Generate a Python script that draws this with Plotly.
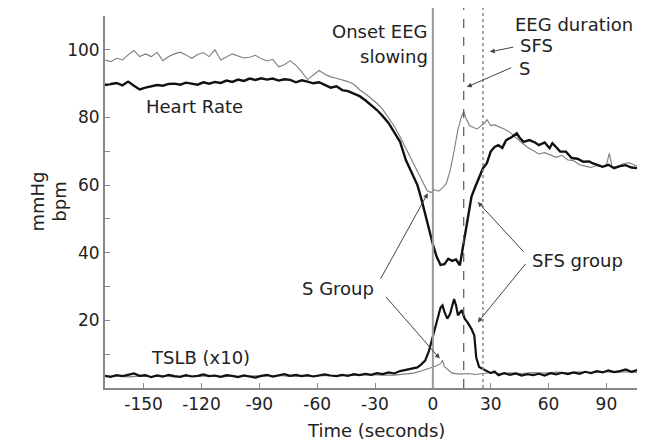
import plotly.graph_objects as go

# ── data ──
# S group (thin grey) heart rate
t_hr_s = [-170, -167, -164, -161, -158, -155, -152, -149, -146, -143, -140, -137, -134, -131,
          -128, -125, -122, -119, -116, -113, -110, -107, -104, -101, -98, -95, -92, -89,
          -86, -83, -80, -77, -74, -71, -68, -65, -62, -59, -56, -53, -50, -47, -44, -41,
          -38, -35, -32, -29, -26, -23, -20, -17, -14, -11, -8, -5, -3, -1, 1, 3, 5, 7, 9,
          11, 13, 15, 16, 17, 19, 21, 23, 25, 27, 28, 30, 32, 34, 37, 40, 43, 46, 49, 52,
          55, 58, 61, 64, 67, 70, 73, 76, 79, 82, 85, 88, 90, 91.5, 93, 96, 99, 102, 105,
          108, 110]
hr_s = [97, 96.5, 97.5, 97, 98.5, 99.8, 98, 98.8, 98, 99.2, 96.8, 98, 98.8, 99.3,
        98.5, 97.5, 98.6, 99.2, 98, 100, 97, 97.8, 98.8, 98.2, 97.6, 97.8, 98.4, 97.4,
        96.7, 97.2, 95, 95.6, 96.8, 95.4, 93.5, 91.2, 92.6, 93.9, 92.8, 92, 91.6, 91.2, 90.6, 89.8,
        88.2, 87, 85.6, 84.2, 82.4, 80, 77.4, 74.3, 70.8, 67.4, 64.2, 60.8, 58.4, 57.8, 58.6, 58.2, 59.2, 60.5, 64.4,
        70, 76.5, 80.5, 81.7, 80, 77.6, 77, 76.6, 77.5, 78.4, 79.4, 77.6, 77.8, 77.4, 76.6, 75.6, 74, 72.6, 71.2, 70.2,
        69.2, 69.6, 68.8, 68.2, 68.8, 67.4, 67.2, 66, 65.6, 65.2, 65.8, 65.4, 66, 69.4, 65.2, 65.6, 66.4, 66.6, 65.8,
        65.2, 65.6]

# SFS group (thick black) heart rate
t_hr_sfs = [-170, -167, -164, -161, -158, -155, -152, -149, -146, -143, -140, -137, -134, -131,
            -128, -125, -122, -119, -116, -113, -110, -107, -104, -101, -98, -95, -92, -89,
            -86, -83, -80, -77, -74, -71, -68, -65, -62, -59, -56, -53, -50, -47, -44, -41,
            -38, -35, -32, -29, -26, -23, -20, -17, -14, -11, -8, -6, -4, -2, 0, 2, 4, 6, 8,
            10, 12, 14, 16, 18, 20, 22, 24, 26, 28, 30, 32, 34, 36, 38, 41, 43.5, 45, 47, 50,
            53, 55, 58, 60.5, 62, 64, 66, 69, 72, 75, 78, 81, 83, 86, 88, 91, 94, 97, 100,
            103, 106, 110]
hr_sfs = [89.6, 89.8, 90.2, 89.5, 90.6, 89.4, 88.3, 88.8, 89.3, 89.6, 89.4, 89.9, 90, 89.7,
          90.3, 90.1, 89.7, 90.4, 90, 90.5, 90.2, 90.9, 90.5, 91.2, 90.8, 91.5, 91.1, 91.6,
          91.2, 91.5, 90.9, 91.3, 91.1, 90.4, 91, 90.6, 90.1, 90.4, 89.7, 88.8, 89.2, 88.1, 87.8, 87,
          86.3, 85.1, 83.6, 82.2, 80.4, 78.4, 75.6, 72.8, 67.4, 63.5, 60, 56, 51.5, 46.5, 42.5, 38.8, 36.4, 36.6, 38.2,
          37.6, 38, 36.3, 42.8, 50.6, 56.5, 59.5, 62.5, 65, 66.5, 69.9, 71.3, 71.8, 71, 73.3, 74.2, 75.3, 74, 72.8, 73.3,
          72.6, 71.8, 72.6, 70.9, 72.4, 71.2, 69.9, 69.9, 68, 67.8, 66.9, 67, 66.4, 65.8, 65.4, 66, 65, 65.6, 65.9,
          65.2, 65, 65.6]

# SFS group (thick black) TSLB x10
t_tslb_sfs = [-170, -167, -164, -161, -158, -155, -152, -149, -146, -143, -140, -137, -134, -131,
              -128, -125, -122, -119, -116, -113, -110, -107, -104, -101, -98, -95, -92, -89,
              -86, -83, -80, -77, -74, -71, -68, -65, -62, -59, -56, -53, -50, -47, -44, -41,
              -38, -35, -32, -29, -26, -23, -20, -17, -14, -11, -8, -6, -4, -2, 0, 2, 4, 5, 6,
              7.5, 9, 11, 12, 13, 15, 16.5, 18, 20, 21.5, 22.5, 24, 26, 28, 30, 32, 34, 37, 40,
              43, 46, 49, 52, 55, 58, 61, 64, 67, 70, 73, 76, 79, 82, 85, 88, 91, 94, 97, 100,
              103, 106, 110]
tslb_sfs = [3.6, 3.3, 3.8, 3.5, 3.9, 4.3, 3.6, 3.8, 3.2, 3.7, 3.4, 3.9, 3.5, 3.3,
            3.8, 3.4, 3.6, 4.0, 3.5, 3.7, 3.3, 3.8, 3.6, 3.2, 3.7, 3.5, 3.1, 3.6,
            3.9, 3.4, 3.8, 4.1, 3.6, 3.9, 3.5, 3.8, 3.4, 3.6, 4.0, 3.7, 3.5, 3.9, 3.6, 4.1,
            3.8, 4.2, 3.9, 4.4, 4.1, 4.6, 4.3, 5.0, 5.3, 5.8, 6.1, 7.0, 8.1, 11, 15, 19.5, 23.8, 24.4, 22.5,
            20.5, 22, 26.3, 24.5, 21.5, 23, 20.5, 19.4, 17.5, 15.5, 9, 6.2, 5.6, 5.2, 4.4, 4.9, 3.8, 4.4, 3.9,
            4.3, 3.7, 4.1, 3.8, 4.2, 3.7, 4.4, 4.0, 4.5, 4.1, 4.6, 4.2, 4.8, 4.4, 5.0, 4.6, 5.2, 4.7, 5.0, 5.5,
            4.8, 5.3, 4.7]

# S group (thin grey) TSLB x10
t_tslb_s = [-170, -164, -158, -152, -146, -140, -134, -128, -122, -116, -110, -104, -98, -92,
            -86, -80, -74, -68, -62, -56, -50, -44, -38, -32, -26, -20, -15, -10, -6, -3, 0,
            2, 4, 5, 6, 8, 10, 14, 18, 22, 26, 30, 35, 40, 46, 52, 58, 64, 70, 76, 82, 88, 94,
            100, 106, 110]
tslb_s = [3.4, 3.6, 3.3, 3.5, 3.4, 3.6, 3.3, 3.5, 3.4, 3.6, 3.3, 3.5, 3.4, 3.6,
          3.5, 3.7, 3.4, 3.6, 3.5, 3.7, 3.6, 3.8, 3.7, 3.9, 3.8, 3.8, 4.1, 4.4, 5.0, 5.6, 6.0,
          6.6, 7.2, 8.2, 6.3, 5.2, 4.4, 4.1, 4.3, 4.0, 4.2, 4.6, 4.2, 4.5, 4.3, 4.6, 4.4, 4.7, 4.5, 4.8, 4.5, 4.9, 4.6,
          4.8, 4.6, 4.5]

# event times (seconds)
onset_eeg = 0
eeg_end_s = 16
eeg_end_sfs = 26

x_ticks = [-150, -120, -90, -60, -30, 0, 30, 60, 90]
x_ticklabels = ["-150", "-120", "-90", "-60", "-30", "0", "30", "60", "90"]
y_ticks = [10, 20, 30, 40, 50, 60, 70, 80, 90, 100]
y_ticklabels = ["", "20", "", "40", "", "60", "", "80", "", "100"]

FONT = "DejaVu Sans"
GREY = "#7d7d7d"

fig = go.Figure()

# thin grey = S group, thick black = SFS group
fig.add_trace(go.Scatter(x=t_hr_s, y=hr_s, mode="lines",
                         line=dict(color=GREY, width=1.1), showlegend=False))
fig.add_trace(go.Scatter(x=t_tslb_s, y=tslb_s, mode="lines",
                         line=dict(color=GREY, width=1.1), showlegend=False))
fig.add_trace(go.Scatter(x=t_hr_sfs, y=hr_sfs, mode="lines",
                         line=dict(color="#111111", width=2.4), showlegend=False))
fig.add_trace(go.Scatter(x=t_tslb_sfs, y=tslb_sfs, mode="lines",
                         line=dict(color="#111111", width=2.2), showlegend=False))

# event markers
for xv, dash, color, width in [(onset_eeg, "solid", "#9a9a9a", 2),
                               (eeg_end_s, "dash", "#555555", 1.2),
                               (eeg_end_sfs, "dot", "#888888", 1.5)]:
    fig.add_shape(type="line", x0=xv, x1=xv, y0=0, y1=1.04, xref="x", yref="paper",
                  line=dict(color=color, width=width, dash=dash))

# ── text labels ──
txt = dict(family=FONT, size=18, color="#222222")
labels = [
    ("Heart Rate", -150, 83.1, "left"),
    ("TSLB (x10)", -147.4, 9.0, "left"),
    ("S Group", -68.8, 29.5, "left"),
    ("SFS group", 50.2, 37.8, "left"),
    ("Onset EEG", -1.6, 105.3, "right"),
    ("slowing", -1.6, 97.9, "right"),
    ("EEG duration", 41.4, 107.4, "left"),
    ("SFS", 44, 101.2, "left"),
    ("S", 43.5, 94.4, "left"),
]
for text, xv, yv, anchor in labels:
    fig.add_annotation(x=xv, y=yv, text=text, showarrow=False, xanchor=anchor,
                       yanchor="middle", font=txt)

# arrows: head (x, y) in data, tail offset in pixels
arrows = [
    (-2.6, 57.6, -48, 87),
    (3.6, 8.7, -55, -63),
    (23.3, 55.0, 47, 51),
    (23.3, 19.4, 49, -60),
    (29.5, 99.4, 25, -5),
    (17.6, 89.0, 46, -20),
]
for xv, yv, ax, ay in arrows:
    fig.add_annotation(x=xv, y=yv, ax=ax, ay=ay, text="", showarrow=True,
                       arrowhead=2, arrowsize=1, arrowwidth=1, arrowcolor="#444444")

# axis titles
fig.add_annotation(x=-0.150, y=0.50, xref="paper", yref="paper", text="mmHg",
                   textangle=-90, showarrow=False, font=txt)
fig.add_annotation(x=-0.109, y=0.50, xref="paper", yref="paper", text="bpm",
                   textangle=-90, showarrow=False, font=txt)
fig.add_annotation(x=0.502, y=-0.113, xref="paper", yref="paper", text="Time (seconds)",
                   showarrow=False, yanchor="middle", font=txt)

fig.update_xaxes(range=[-170, 110], tickvals=x_ticks, ticktext=x_ticklabels,
                 ticks="inside", ticklen=5,
                 tickcolor="#888888", showline=True, linecolor="#888888", linewidth=2,
                 showgrid=False, zeroline=False,
                 tickfont=dict(family=FONT, size=17, color="#222222"))
fig.update_yaxes(range=[0, 110], tickvals=y_ticks, ticktext=y_ticklabels,
                 ticks="inside", ticklen=5, tickcolor="#888888", showline=True,
                 linecolor="#888888", linewidth=2, showgrid=False, zeroline=False,
                 tickfont=dict(family=FONT, size=17, color="#222222"))

# the page body adds an 8px offset, so the figure is sized to fit inside the window
fig.update_layout(
    width=637, height=432,
    margin=dict(l=97, r=0, t=8, b=52),
    plot_bgcolor="white", paper_bgcolor="white",
    showlegend=False,
)

fig.write_html("out.html")
